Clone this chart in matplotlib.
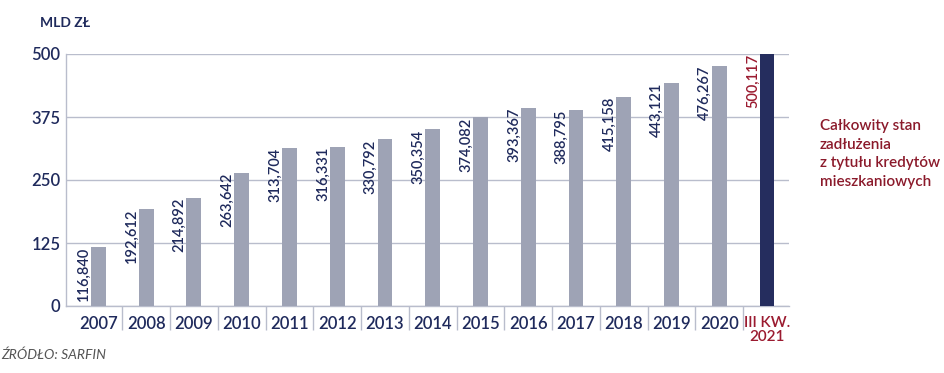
import matplotlib
matplotlib.use("Agg")
import matplotlib.pyplot as plt
import numpy as np

categories = ["2007", "2008", "2009", "2010", "2011", "2012", "2013", "2014",
              "2015", "2016", "2017", "2018", "2019", "2020", "III KW.\n2021"]
values = [116.840, 192.612, 214.892, 263.642, 313.704, 316.331, 330.792, 350.354,
          374.082, 393.367, 388.795, 415.158, 443.121, 476.267, 500.117]
value_labels = ["116,840", "192,612", "214,892", "263,642", "313,704", "316,331",
                "330,792", "350,354", "374,082", "393,367", "388,795", "415,158",
                "443,121", "476,267", "500,117"]
yticks = [0, 125, 250, 375, 500]

NAVY = "#1f2a5c"
GRAY = "#9ea3b5"
DARK = "#252d5e"
RED = "#9b1b30"
GRID = "#b9bdcc"

plt.rcParams['font.family'] = ['Lato', 'DejaVu Sans']

fig = plt.figure(figsize=(9.45, 3.73), dpi=100)
W, H = 945, 373
ax = fig.add_axes([66 / W, (H - 306) / H, (789 - 66) / W, (306 - 54) / H])

x = np.arange(len(categories))
colors = [GRAY] * (len(values) - 1) + [DARK]
ax.bar(x, values, width=0.31, color=colors, zorder=3)

for i, (v, lab) in enumerate(zip(values, value_labels)):
    c = RED if i == len(values) - 1 else NAVY
    ax.text(x[i] - 0.30, v, lab, rotation=90, ha='center', va='top',
            fontsize=10.5, color=c, zorder=4, fontweight='semibold')

ax.set_xlim(-0.677, 14.46)
ax.set_ylim(0, 500)
ax.set_yticks(yticks)
ax.set_yticklabels([str(t) for t in yticks])
ax.yaxis.grid(True, color=GRID, linewidth=1.0, zorder=0)
ax.set_axisbelow(True)

for s in ['top', 'right']:
    ax.spines[s].set_visible(False)
for s in ['left', 'bottom']:
    ax.spines[s].set_color(GRID)
    ax.spines[s].set_linewidth(1.0)

ax.tick_params(axis='y', length=0, pad=4, labelsize=12, labelcolor=NAVY)
ax.set_xticks(x)
ax.set_xticklabels(categories)
ax.tick_params(axis='x', length=0, pad=7, labelsize=12, labelcolor=NAVY)
ax.get_xticklabels()[-1].set_color(RED)
for t in ax.get_xticklabels() + ax.get_yticklabels():
    t.set_linespacing(1.0)
    t.set_fontweight('semibold')
ax.get_xticklabels()[-1].set_fontsize(11)

ax.set_xticks(x[:-1] + 0.5, minor=True)
ax.tick_params(axis='x', which='minor', length=17, width=1.0, color=GRID, direction='out')

fig.text(40 / W, (H - 23) / H, "MLD ZŁ", fontsize=10, color=NAVY, ha='left',
         va='center', fontweight='bold')
fig.text(1 / W, (H - 355) / H, "ŹRÓDŁO: SARFIN", fontsize=10, color="#555555",
         style='italic', ha='left', va='center')
fig.text(820 / W, (H - 154) / H,
         "Całkowity stan\nzadłużenia\nz tytułu kredytów\nmieszkaniowych",
         fontsize=11, color="#8b1a2b", ha='left', va='center', linespacing=1.4,
         fontweight='semibold')
fig.savefig("out.png", dpi=100)
